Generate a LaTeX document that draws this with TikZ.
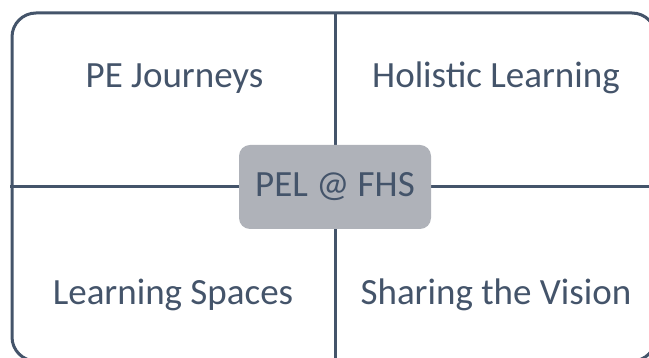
\documentclass[tikz,border=0pt]{standalone}
\usepackage{fontspec}
\setmainfont{Carlito}
\definecolor{slate}{HTML}{44546A}
\definecolor{hubgray}{HTML}{AFB2B9}
\begin{document}
\begin{tikzpicture}[x=1pt,y=1pt,
  frame/.style={draw=slate, line width=3pt, rounded corners=24pt},
  divider/.style={draw=slate, line width=3pt},
  label/.style={text=slate, font=\fontsize{37}{41}\selectfont, anchor=base, inner sep=0pt},
  hub/.style={fill=hubgray, rounded corners=11pt, minimum width=192pt, minimum height=84pt,
    text=slate, font=\fontsize{37}{41}\selectfont, text height=25pt, text depth=5pt, inner sep=0pt}]
  \useasboundingbox (0,0) rectangle (649,358);
  \clip (0,0) rectangle (649,358);
  % outer frame, running past the right and bottom edges
  \coordinate (ftl) at (12,345);
  \coordinate (fbr) at (656,-3);
  \draw[frame] (ftl) rectangle (fbr);
  % dividers through the hub
  \coordinate (vt) at (335,345);
  \coordinate (vb) at (335,-3);
  \coordinate (hl) at (10,171);
  \coordinate (hr) at (656,171);
  \draw[divider] (vt) -- (vb);
  \draw[divider] (hl) -- (hr);
  % central hub
  \node[hub] (hubnode) at (335,171) {PEL @ FHS};
  % quadrant labels
  \node[label] (q1) at (174.5,270) {PE Journeys};
  \node[label] (q2) at (496,270) {Holistic Learning};
  \node[label] (q3) at (173,53) {Learning Spaces};
  \node[label] (q4) at (496,53) {Sharing the Vision};
\end{tikzpicture}
\end{document}
